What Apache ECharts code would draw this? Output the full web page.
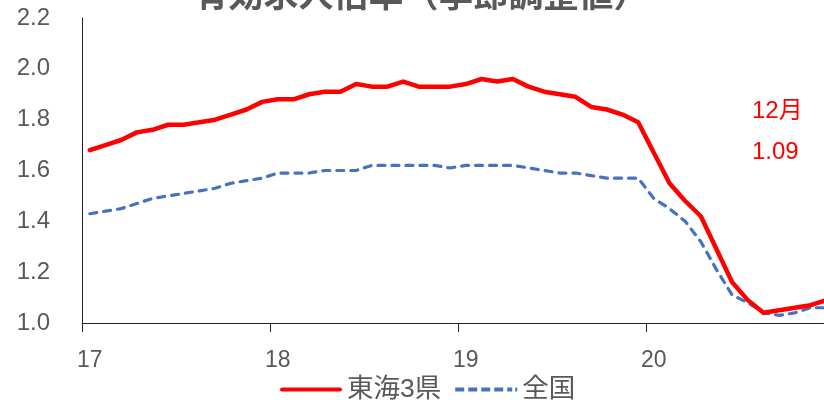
<!DOCTYPE html>
<html>
<head>
<meta charset="utf-8">
<script src="https://cdn.jsdelivr.net/npm/echarts@6/dist/echarts.min.js"></script>
<style>
  html, body { margin: 0; padding: 0; background: #fff; }
  #chart { width: 824px; height: 400px; }
</style>
</head>
<body>
<div id="chart"></div>
<script>
// Monthly job-offers-to-applicants ratio, seasonally adjusted, Jan 2017 – Dec 2020
const months = [
  '2017-01','2017-02','2017-03','2017-04','2017-05','2017-06','2017-07','2017-08','2017-09','2017-10','2017-11','2017-12',
  '2018-01','2018-02','2018-03','2018-04','2018-05','2018-06','2018-07','2018-08','2018-09','2018-10','2018-11','2018-12',
  '2019-01','2019-02','2019-03','2019-04','2019-05','2019-06','2019-07','2019-08','2019-09','2019-10','2019-11','2019-12',
  '2020-01','2020-02','2020-03','2020-04','2020-05','2020-06','2020-07','2020-08','2020-09','2020-10','2020-11','2020-12'
];

// 東海3県 (Aichi, Gifu, Mie)
const tokai = [
  1.68, 1.70, 1.72, 1.75, 1.76, 1.78, 1.78, 1.79, 1.80, 1.82, 1.84, 1.87,
  1.88, 1.88, 1.90, 1.91, 1.91, 1.94, 1.93, 1.93, 1.95, 1.93, 1.93, 1.93,
  1.94, 1.96, 1.95, 1.96, 1.93, 1.91, 1.90, 1.89, 1.85, 1.84, 1.82, 1.79,
  1.67, 1.55, 1.48, 1.42, 1.29, 1.16, 1.09, 1.04, 1.05, 1.06, 1.07, 1.09
];

// 全国 (nationwide)
const national = [
  1.43, 1.44, 1.45, 1.47, 1.49, 1.50, 1.51, 1.52, 1.53, 1.55, 1.56, 1.57,
  1.59, 1.59, 1.59, 1.60, 1.60, 1.60, 1.62, 1.62, 1.62, 1.62, 1.62, 1.61,
  1.62, 1.62, 1.62, 1.62, 1.61, 1.60, 1.59, 1.59, 1.58, 1.57, 1.57, 1.57,
  1.49, 1.45, 1.40, 1.32, 1.21, 1.11, 1.08, 1.04, 1.03, 1.04, 1.06, 1.06
];

const yTicks = { min: 1.0, max: 2.2, step: 0.2 };
const seriesNames = ['東海3県', '全国'];
const titleText = '有効求人倍率（季節調整値）';

const FONT = "'Liberation Sans', 'Noto Sans CJK JP', sans-serif";
const GREY = '#595959';
const RED = '#FF0000';
const BLUE = '#4472C4';

// Legend keys: a solid bar and a dashed bar, drawn as filled paths
const SOLID_KEY = 'path://M2,0H60A2,2 0 0 1 60,4H2A2,2 0 0 1 2,0Z';
const DASHED_KEY = 'path://M0,0h9v4h-9zM13,0h9v4h-9zM26,0h9v4h-9zM39,0h9v4h-9zM52,0h5v4h-5zM60,0h2v4h-2z';

const lastIdx = months.length - 1;
const lastMonth = parseInt(months[lastIdx].split('-')[1], 10);

const chart = echarts.init(document.getElementById('chart'), null, { renderer: 'canvas' });

chart.setOption({
  animation: false,
  backgroundColor: '#fff',
  // plot area continues a little past the right edge of the canvas
  grid: { left: 82, width: 752, top: 18, bottom: 77, containLabel: false, outerBoundsMode: 'none' },
  graphic: [
    {
      type: 'text', x: 421, y: 11, silent: true,
      style: {
        text: titleText, fill: GREY, textAlign: 'center', textVerticalAlign: 'bottom',
        font: "bold 35px 'Noto Sans CJK JP', sans-serif"
      }
    },
    {
      type: 'text', x: 752, y: 111, silent: true,
      style: {
        text: lastMonth + '月', fill: RED, textAlign: 'left', textVerticalAlign: 'middle',
        font: '24px ' + FONT
      }
    },
    {
      type: 'text', x: 752, y: 152, silent: true,
      style: {
        text: tokai[lastIdx].toFixed(2), fill: RED, textAlign: 'left', textVerticalAlign: 'middle',
        font: '24px ' + FONT
      }
    }
  ],
  legend: {
    data: [
      { name: seriesNames[0], icon: SOLID_KEY, itemStyle: { color: RED } },
      { name: seriesNames[1], icon: DASHED_KEY, itemStyle: { color: BLUE } }
    ],
    left: 280, top: 376,
    itemWidth: 62, itemHeight: 4, itemGap: 14, padding: 0,
    textStyle: { color: GREY, fontSize: 26.5, fontFamily: FONT, lineHeight: 27 }
  },
  xAxis: {
    type: 'category',
    data: months,
    boundaryGap: true,
    axisLine: { show: true, lineStyle: { color: '#222', width: 1 } },
    axisTick: { show: true, interval: 11, length: 9, inside: false, alignWithLabel: false, lineStyle: { color: '#222', width: 1 } },
    axisLabel: {
      interval: 11, margin: 26, color: GREY, fontSize: 23, fontFamily: FONT,
      formatter: v => v.slice(2, 4)
    },
    splitLine: { show: false }
  },
  yAxis: {
    type: 'value',
    min: yTicks.min, max: yTicks.max, interval: yTicks.step,
    axisLine: { show: true, lineStyle: { color: '#222', width: 1 } },
    axisTick: { show: false },
    axisLabel: { margin: 32, color: GREY, fontSize: 24, fontFamily: FONT, formatter: v => v.toFixed(1) },
    splitLine: { show: false }
  },
  series: [
    {
      name: seriesNames[0], type: 'line', data: tokai,
      showSymbol: false, symbol: 'none', smooth: false,
      lineStyle: { color: RED, width: 4.5, cap: 'round', join: 'round' },
      itemStyle: { color: RED },
      z: 3
    },
    {
      name: seriesNames[1], type: 'line', data: national,
      showSymbol: false, symbol: 'none', smooth: false,
      lineStyle: { color: BLUE, width: 3.2, type: [7, 7], cap: 'round', join: 'round' },
      itemStyle: { color: BLUE },
      z: 2
    }
  ]
});
</script>
</body>
</html>
